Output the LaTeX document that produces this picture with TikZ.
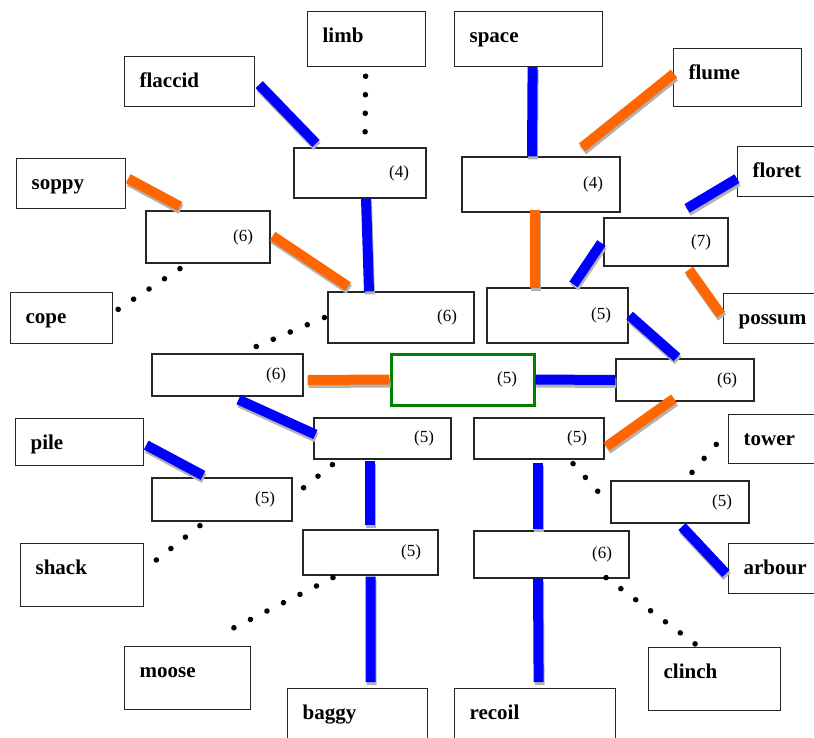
\documentclass[tikz,border=0pt]{standalone}
\usepackage{fontspec}
\setmainfont{Liberation Serif}
\usepackage{tikz}
\usetikzlibrary{calc}
\definecolor{barorange}{RGB}{255,102,0}
\definecolor{boxgreen}{RGB}{0,128,0}

% bar with its grey drop shadow
\newcommand{\barlink}[3]{%
  \draw[barshadow] #2 -- #3;
  \draw[#1] #2 -- #3;}

\begin{document}
\begin{tikzpicture}[x=1pt, y=-1pt,
  wordbox/.style={draw=black!85, line width=1.2pt, fill=white, anchor=north west,
    inner xsep=15pt, inner ysep=0pt, text height=31pt, align=left,
    font=\fontsize{21}{24}\selectfont\bfseries},
  numbox/.style={draw=black!85, line width=1.2pt, fill=white,
    inner xsep=17pt, inner ysep=0pt, align=right,
    font=\fontsize{17}{20}\selectfont},
  barshadow/.style={line width=10pt, draw=black!30,
    transform canvas={xshift=1pt, yshift=-3pt}},
  bluebar/.style={line width=10pt, draw=blue},
  orangebar/.style={line width=10pt, draw=barorange},
  dotline/.style={line width=5.5pt, line cap=round, dash pattern=on 0.1pt off 18.4pt, draw=black}]

\path[use as bounding box, clip] (0,0) rectangle (814,737);

% word boxes
\node[wordbox, text width=88pt, text depth=24pt] (limb) at (307,11) {limb};
\node[wordbox, text width=118pt, text depth=24pt] (space) at (454,11) {space};
\node[wordbox, text width=100pt, text depth=19pt] (flaccid) at (124,56) {flaccid};
\node[wordbox, text width=98pt, text depth=27pt] (flume) at (673,48) {flume};
\node[wordbox, text width=79pt, text depth=19pt] (soppy) at (16,158) {soppy};
\node[wordbox, text width=80pt, text depth=19pt] (floret) at (737,146) {floret};
\node[wordbox, text width=72pt, text depth=20pt] (cope) at (10,292) {cope};
\node[wordbox, text width=80pt, text depth=19pt] (possum) at (723,293) {possum};
\node[wordbox, text width=98pt, text depth=16pt] (pile) at (15,418) {pile};
\node[wordbox, text width=80pt, text depth=18pt] (tower) at (728,414) {tower};
\node[wordbox, text width=93pt, text depth=32pt] (shack) at (20,543) {shack};
\node[wordbox, text width=80pt, text depth=19pt] (arbour) at (728,543) {arbour};
\node[wordbox, text width=96pt, text depth=32pt] (moose) at (124,646) {moose};
\node[wordbox, text width=102pt, text depth=32pt] (clinch) at (648,647) {clinch};
\node[wordbox, text width=110pt, text depth=32pt] (baggy) at (287,688) {baggy};
\node[wordbox, text width=131pt, text depth=32pt] (recoil) at (454,688) {recoil};

% letter-count boxes
\node[numbox, text width=98pt, minimum height=50pt] (b4L) at (360,173) {(4)};
\node[numbox, text width=124pt, minimum height=55pt] (b4R) at (541,184.5) {(4)};
\node[numbox, text width=90pt, minimum height=52pt] (b6A) at (208,237) {(6)};
\node[numbox, text width=90pt, minimum height=48pt] (b7) at (666,242) {(7)};
\node[numbox, text width=112pt, minimum height=51pt] (b6CL) at (401,317.5) {(6)};
\node[numbox, text width=107pt, minimum height=55pt] (b5CR) at (557.5,315.5) {(5)};
\node[numbox, text width=117pt, minimum height=42pt] (b6L) at (227.5,375) {(6)};
\node[numbox, text width=104pt, minimum height=42pt] (b6R) at (685,380) {(6)};
\node[numbox, text width=103pt, minimum height=41pt] (b5CL) at (382.5,438.5) {(5)};
\node[numbox, text width=96pt, minimum height=41pt] (b5CRl) at (539,438.5) {(5)};
\node[numbox, text width=106pt, minimum height=43pt] (b5L) at (222,499.5) {(5)};
\node[numbox, text width=104pt, minimum height=42pt] (b5R) at (680,502) {(5)};
\node[numbox, text width=101pt, minimum height=45pt] (b5CLb) at (370.5,552.5) {(5)};
\node[numbox, text width=121pt, minimum height=47pt] (b6CRb) at (551.5,554.5) {(6)};

% centre
\node[numbox, draw=boxgreen, line width=3pt, text width=109pt, minimum height=51pt]
  (centre) at (462.5,379.5) {(5)};

% upper left
\barlink{bluebar}{($(flaccid.east)+(4,3)$)}{($(b4L.north)+(-44,-4)$)}
\draw[dotline] ($(limb.south)+(-1,9)$) -- ($(b4L.north)+(5,-3)$);
\barlink{bluebar}{($(b4L.south)+(6,0)$)}{($(b6CL.north)+(-32,0)$)}
\barlink{orangebar}{($(soppy.east)+(2,-5)$)}{($(b6A.north)+(-28,-4)$)}
\barlink{orangebar}{($(b6A.east)+(2,-1)$)}{($(b6CL.north)+(-53,-5)$)}
\draw[dotline] ($(b6A.south)+(-28,5)$) -- ($(cope.east)+(3,-7.5)$);
\draw[dotline] ($(b6CL.west)+(-3,0)$) -- ($(b6L.north)+(12.5,0)$);

% upper right
\barlink{bluebar}{($(space.south)+(4,0)$)}{($(b4R.north)+(-9,0)$)}
\barlink{orangebar}{($(flume.west)+(1,-4)$)}{($(b4R.north)+(41,-9)$)}
\barlink{orangebar}{($(b4R.south)+(-6,-3)$)}{($(b5CR.north)+(-22.5,1)$)}
\barlink{bluebar}{($(floret.west)+(0,7)$)}{($(b7.north)+(21,-9)$)}
\barlink{bluebar}{($(b7.west)+(-2,1)$)}{($(b5CR.north)+(16,-3)$)}
\barlink{orangebar}{($(b7.south)+(23,3)$)}{($(possum.west)+(-2,-4)$)}
\barlink{bluebar}{($(b5CR.east)+(1,0)$)}{($(b6R.north)+(-8,-1)$)}

% centre links
\barlink{orangebar}{($(b6L.east)+(4,5)$)}{(centre.west)}
\barlink{bluebar}{(centre.east)}{(b6R.west)}

% lower left
\barlink{bluebar}{($(b6L.south)+(11,3)$)}{($(b5CL.west)+(2,-4)$)}
\barlink{bluebar}{($(pile.east)+(2,3)$)}{($(b5L.north)+(-19,-2)$)}
\draw[dotline] ($(b5CL.south)+(-50,5)$) -- ($(b5L.east)+(10,-11)$);
\draw[dotline] ($(b5L.south)+(-22,4)$) -- ($(shack.east)+(12,-15)$);
\barlink{bluebar}{($(b5CL.south)+(-13,1)$)}{($(b5CLb.north)+(-1,-4)$)}
\draw[dotline] ($(b5CLb.south)+(-37.5,2)$) -- ($(moose.north)+(32,-11)$);
\barlink{bluebar}{($(b5CLb.south)+(0,1)$)}{($(baggy.north)+(13,-6)$)}

% lower right
\barlink{orangebar}{($(b6R.south)+(-11,-3)$)}{($(b5CRl.east)+(2,8)$)}
\barlink{bluebar}{($(b5CRl.south)+(-1,3)$)}{($(b6CRb.north)+(-13.5,-1)$)}
\draw[dotline] ($(b5CRl.south)+(34,4)$) -- ($(b5R.west)+(-12,-10)$);
\draw[dotline] ($(b5R.north)+(12,-8)$) -- ($(tower.west)+(-11,4.5)$);
\barlink{bluebar}{($(b5R.south)+(2,3)$)}{($(arbour.west)+(-2,5)$)}
\draw[dotline] ($(b6CRb.south)+(54.5,-1)$) -- ($(clinch.north)+(-18,-2)$);
\barlink{bluebar}{($(b6CRb.south)+(-13.5,0)$)}{($(recoil.north)+(3.5,-6)$)}
\end{tikzpicture}
\end{document}
